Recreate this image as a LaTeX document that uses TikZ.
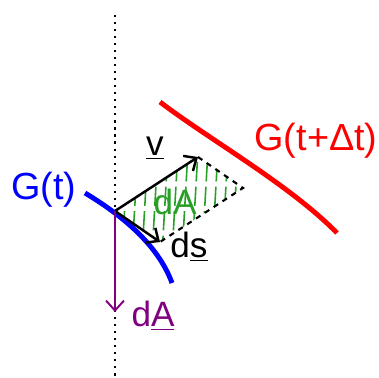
\documentclass[tikz,border=0pt]{standalone}
\usepackage{fontspec}
\setmainfont{Liberation Sans}
\usetikzlibrary{arrows.meta}
\definecolor{hatchgreen}{RGB}{40,160,40}
\definecolor{dapurple}{RGB}{128,0,128}
\tikzset{
  vec/.style={line width=1.4pt,-{Straight Barb[length=2mm,width=3.6mm]}},
  lbl/.style={font=\fontsize{20}{24}\selectfont,inner sep=0pt},
  biglbl/.style={font=\fontsize{21.5}{25}\selectfont,inner sep=0pt}
}
\begin{document}
\begin{tikzpicture}[x=.02cm,y=-.02cm]
  \useasboundingbox (0,0) rectangle (379,378);
  \coordinate (P) at (115,211);
  \coordinate (vtip) at (198,157);
  \coordinate (dstip) at (160,242);
  \coordinate (far) at (243,188);
  \coordinate (dAtip) at (115,312);
  \coordinate (top) at (115,15);
  \coordinate (bot) at (115,377);
  % hatched surface element
  \begin{scope}
    \clip (P)--(vtip)--(far)--(dstip)--cycle;
    \foreach \x in {112,122,...,252}
      \draw[hatchgreen,line width=.9pt,dash pattern=on 11pt off 3pt] (\x,255)--(\x+6,150);
  \end{scope}
  % the two fronts
  \draw[blue,line width=2.8pt] (85,193) .. controls (130,220) and (160,250) .. (172,283);
  \draw[red,line width=2.8pt] (160,102) .. controls (210,140) and (290,185) .. (337,233);
  \draw[line width=1.2pt,dash pattern=on 1.2pt off 2.8pt] (top)--(bot);
  \draw[dashed,line width=1.2pt] (vtip)--(far)--(dstip);
  \draw[vec] (P)--(vtip);
  \draw[vec] (P)--(dstip);
  \draw[vec,dapurple,line width=1.1pt] (P)--(dAtip);
  % labels
  \node[biglbl,blue] (Gt) at (44,190) {G(t)};
  \node[biglbl,red] (Gtdt) at (316,141) {G(t+Δt)};
  \node[lbl] (v) at (155,148) {\underline{v}};
  \node[lbl] (ds) at (189,247) {d\underline{s}};
  \node[lbl,hatchgreen] (dAin) at (175,202) {dA};
  \node[lbl,dapurple] (dA) at (153,316) {d\underline{A}};
\end{tikzpicture}
\end{document}
